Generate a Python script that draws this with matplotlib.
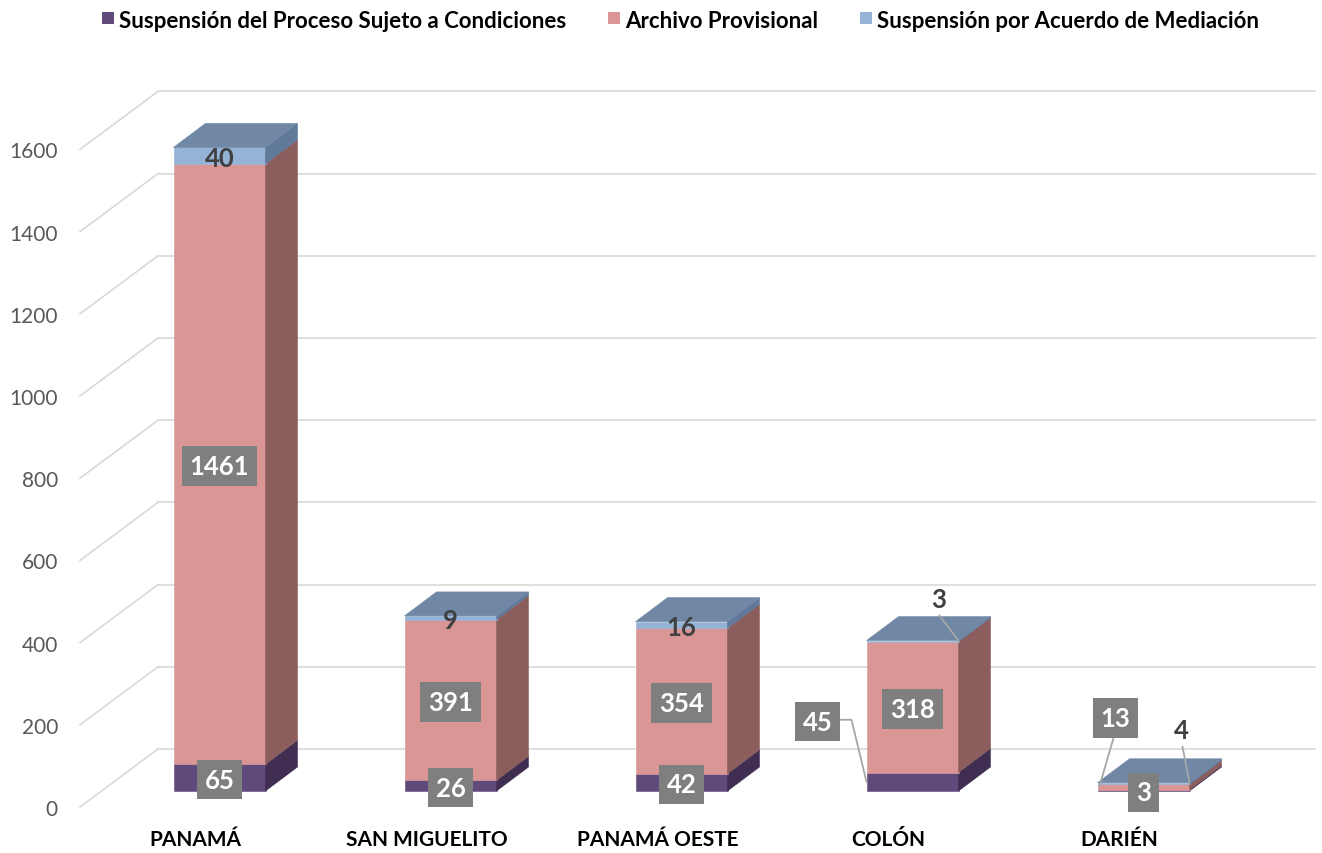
import matplotlib
matplotlib.use('Agg')

import numpy as np
import matplotlib.pyplot as plt
from matplotlib.patches import Polygon, Rectangle

plt.rcParams['font.family'] = ['Lato', 'DejaVu Sans']

# datos
regiones = ['PANAMÁ', 'SAN MIGUELITO', 'PANAMÁ OESTE', 'COLÓN', 'DARIÉN']
suspension_cond = [65, 26, 42, 45, 3]
archivo_prov = [1461, 391, 354, 318, 13]
suspension_med = [40, 9, 16, 3, 4]
nombres = ['Suspensión del Proceso Sujeto a Condiciones',
           'Archivo Provisional',
           'Suspensión por Acuerdo de Mediación']
ticks_y = [0, 200, 400, 600, 800, 1000, 1200, 1400, 1600]

col_frente = ['#604A7B', '#D99694', '#95B3D7']
col_lado = ['#3F2E52', '#8B5D5C', '#61799A']
col_tapa = '#7088A6'
col_grid = '#D9D9D9'

# figura en pixeles
W, H = 1322, 854
fig = plt.figure(figsize=(W / 100, H / 100), dpi=100)
ax = fig.add_axes([0, 0, 1, 1])
PX = 231.0    # px por categoria
PY = 0.411    # px por unidad
X0, Y0 = 219.5, 808
ax.set_xlim((0 - X0) / PX, (W - X0) / PX)
ax.set_ylim((Y0 - H) / PY, Y0 / PY)
ax.axis('off')

def dx(p):
    return p / PX

def dy(p):
    return p / PY

def px_x(p):
    return (p - X0) / PX

def px_y(p):
    return (Y0 - p) / PY

# paredes con lineas de cuadricula
xl0, xl1, xr = px_x(80), px_x(158), px_x(1315)
prof = dy(58)
for v in ticks_y:
    ax.plot([xl0, xl1], [v, v + prof], color=col_grid, lw=1.2, zorder=1)
    ax.plot([xl1, xr], [v + prof, v + prof], color=col_grid, lw=1.2, zorder=1)
    ax.text(px_x(58), v, str(v), ha='right', va='center_baseline', fontsize=15,
            color='#595959')

# barras 3d apiladas
pos = np.arange(len(regiones))
ancho = dx(92)
yo = dy(16)
ddx, ddy = dx(32), dy(24)
series = [suspension_cond, archivo_prov, suspension_med]
base = np.zeros(len(regiones))
for k, vals in enumerate(series):
    vals = np.array(vals, dtype=float)
    ax.bar(pos, vals, width=ancho, bottom=base + yo, color=col_frente[k],
           edgecolor=col_frente[k], lw=0.4, zorder=3)
    for i in pos:
        x1 = i + ancho / 2
        b, t = base[i] + yo, base[i] + vals[i] + yo
        ax.add_patch(Polygon([(x1, b), (x1 + ddx, b + ddy), (x1 + ddx, t + ddy), (x1, t)],
                             closed=True, fc=col_lado[k], ec=col_lado[k], lw=0.4, zorder=3))
    base += vals

for i in pos:
    x0, x1 = i - ancho / 2, i + ancho / 2
    t = base[i] + yo
    ax.add_patch(Polygon([(x0, t), (x0 + ddx, t + ddy), (x1 + ddx, t + ddy), (x1, t)],
                         closed=True, fc=col_tapa, ec=col_tapa, lw=0.4, zorder=3))

# etiquetas de datos
def etiqueta(x, y, txt, caja):
    if caja:
        ax.text(x, y, txt, ha='center', va='center_baseline', color='white', fontsize=18.5,
                fontweight='bold', zorder=6,
                bbox=dict(boxstyle='square,pad=0.3', fc='#7F7F7F', ec='none'))
    else:
        ax.text(x, y, txt, ha='center', va='center_baseline', color='#404040', fontsize=18.5,
                fontweight='bold', zorder=6)

def guia(puntos):
    xs = [p[0] for p in puntos]
    ys = [p[1] for p in puntos]
    ax.plot(xs, ys, color='#A6A6A6', lw=1.3, zorder=5)

base = np.zeros(len(regiones))
for k, vals in enumerate(series):
    for i in pos:
        v = vals[i]
        yc = base[i] + v / 2 + yo
        caja = k < 2
        if k == 0 and i == 3:
            ax_, ay_ = i - ancho / 2, yc
            cx, cy = ax_ + dx(-49), ay_ + dy(62)
            etiqueta(cx, cy, str(v), caja)
            guia([(cx + dx(23), cy), (cx + dx(34), cy), (ax_, ay_)])
        elif k == 1 and i == 4:
            ax_, ay_ = i - ancho / 2, yc + dy(1)
            cx, cy = ax_ + dx(18), ay_ + dy(70)
            etiqueta(cx, cy, str(v), caja)
            guia([(cx - dx(2), cy - dy(22)), (ax_ + dx(2), ay_)])
        elif k == 2 and i in (3, 4):
            ax_, ay_ = i + ancho / 2, base[i] + v + yo
            if i == 3:
                cx, cy = ax_ + dx(-20), ay_ + dy(44)
            else:
                cx, cy = ax_ + dx(-8), ay_ + dy(55)
            etiqueta(cx, cy, str(v), caja)
            guia([(cx + dx(1), cy - dy(19)), (ax_, ay_)])
        else:
            etiqueta(i, yc, str(v), caja)
    base += np.array(vals, dtype=float)

# categorias
for i, r in enumerate(regiones):
    ax.text(i - dx(24), px_y(838), r, ha='center', va='center_baseline', fontsize=15,
            fontweight='bold', color='black')

# leyenda
leg_x = [102, 608, 860]
for k, nom in enumerate(nombres):
    ax.add_patch(Rectangle((px_x(leg_x[k]), px_y(25)), dx(12), dy(12),
                           fc=col_frente[k], ec='none'))
    ax.text(px_x(leg_x[k] + 17), px_y(19), nom, ha='left', va='center_baseline',
            fontsize=16, fontweight='bold', color='black')

fig.savefig('out.png', dpi=100)
